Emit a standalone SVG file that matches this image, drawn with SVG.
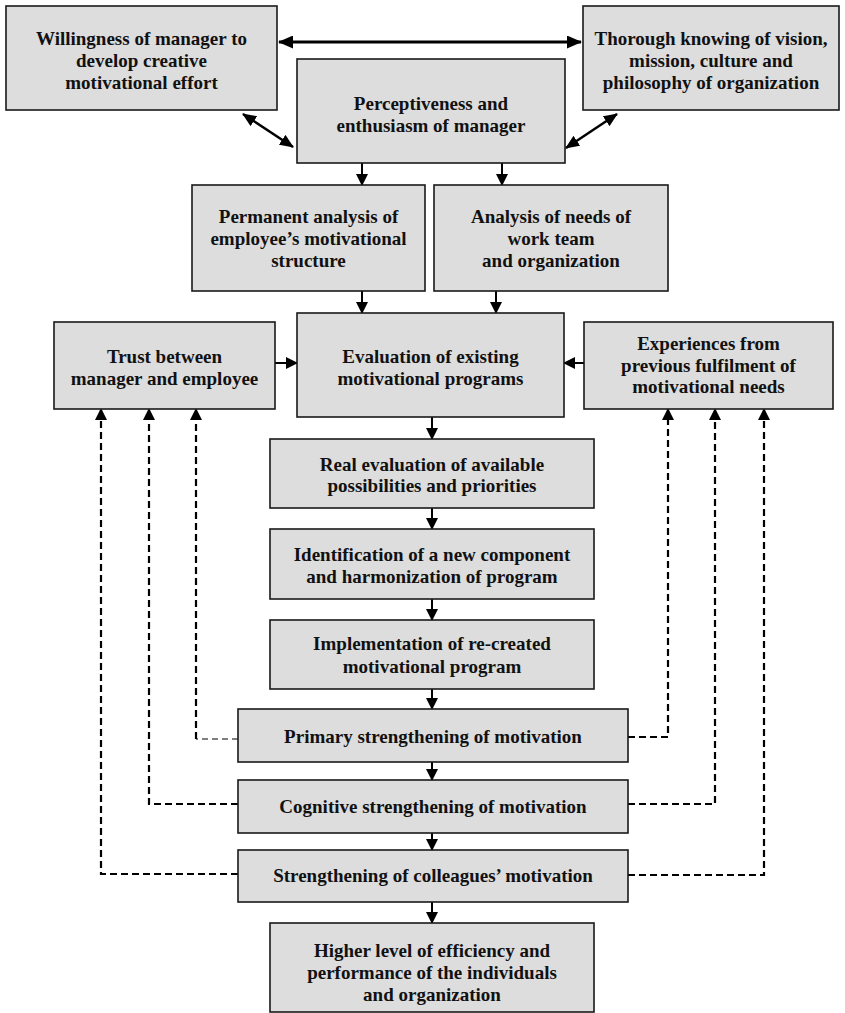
<svg xmlns="http://www.w3.org/2000/svg" width="845" height="1013" viewBox="0 0 845 1013">
<style>
.box{fill:#dddddd;stroke:#1a1a1a;stroke-width:1.6}
.t{font-family:"Liberation Serif","Times New Roman",serif;font-weight:bold;font-size:19px;fill:#111;text-anchor:middle}
.sol{stroke:#000;stroke-width:2;fill:none;marker-end:url(#ah)}
.dbl{stroke:#000;stroke-width:2.5;fill:none;marker-start:url(#ah2);marker-end:url(#ah2)}
.top{stroke:#000;stroke-width:3;fill:none;marker-start:url(#ah3);marker-end:url(#ah3)}
.dash{stroke:#000;stroke-width:2.2;fill:none;stroke-dasharray:7,4;marker-end:url(#ah)}
.thin{stroke:#555;stroke-width:1.3;fill:none;stroke-dasharray:6,4}
</style>
<defs>
<marker id="ah" markerUnits="userSpaceOnUse" markerWidth="12" markerHeight="12" refX="11" refY="6" orient="auto-start-reverse"><path d="M0,0 L12,6 L0,12 z" fill="#000"/></marker>
<marker id="ah2" markerUnits="userSpaceOnUse" markerWidth="14" markerHeight="12" refX="13" refY="6" orient="auto-start-reverse"><path d="M0,0 L14,6 L0,12 z" fill="#000"/></marker>
<marker id="ah3" markerUnits="userSpaceOnUse" markerWidth="15" markerHeight="13" refX="14" refY="6.5" orient="auto-start-reverse"><path d="M0,0 L15,6.5 L0,13 z" fill="#000"/></marker>
</defs>

<g id="connectors">
<line class="top" x1="279" y1="42" x2="581" y2="42"/>
<line class="dbl" x1="243" y1="114" x2="293" y2="147"/>
<line class="dbl" x1="566" y1="148" x2="617" y2="114"/>
<line class="sol" x1="362" y1="163" x2="362" y2="185"/>
<line class="sol" x1="502" y1="163" x2="502" y2="185"/>
<line class="sol" x1="362" y1="291" x2="362" y2="313"/>
<line class="sol" x1="496" y1="291" x2="496" y2="313"/>
<line class="sol" x1="275" y1="363" x2="297" y2="363"/>
<line class="sol" x1="584" y1="363" x2="564" y2="363"/>
<line class="sol" x1="432" y1="417" x2="432" y2="439"/>
<line class="sol" x1="432" y1="508" x2="432" y2="529"/>
<line class="sol" x1="432" y1="599" x2="432" y2="620"/>
<line class="sol" x1="432" y1="689" x2="432" y2="709"/>
<line class="sol" x1="432" y1="762" x2="432" y2="780"/>
<line class="sol" x1="432" y1="833" x2="432" y2="850"/>
<line class="sol" x1="432" y1="902" x2="432" y2="923"/>
<line class="thin" x1="238" y1="739" x2="196" y2="739"/>
<path class="dash" d="M196,739 L196,409"/>
<path class="dash" d="M238,804 L149,804 L149,409"/>
<path class="dash" d="M238,874 L101,874 L101,409"/>
<path class="dash" d="M628,737 L668,737 L668,409"/>
<path class="dash" d="M628,804 L715,804 L715,409"/>
<path class="dash" d="M628,875 L764,875 L764,409"/>
</g>

<g id="n-willingness"><rect class="box" x="6" y="6" width="271" height="104"/>
<text class="t" x="141.5" y="45">Willingness of manager to</text><text class="t" x="141.5" y="67">develop creative</text><text class="t" x="141.5" y="89">motivational effort</text></g>
<g id="n-thorough"><rect class="box" x="583" y="6" width="256" height="104"/>
<text class="t" x="711" y="45">Thorough knowing of vision,</text><text class="t" x="711" y="67">mission, culture and</text><text class="t" x="711" y="89">philosophy of organization</text></g>
<g id="n-perceptiveness"><rect class="box" x="297" y="59" width="268" height="104"/>
<text class="t" x="431" y="110">Perceptiveness and</text><text class="t" x="431" y="132">enthusiasm of manager</text></g>
<g id="n-permanent"><rect class="box" x="192" y="185" width="233" height="106"/>
<text class="t" x="308.5" y="223">Permanent analysis of</text><text class="t" x="308.5" y="245">employee’s motivational</text><text class="t" x="308.5" y="267">structure</text></g>
<g id="n-needs"><rect class="box" x="434" y="185" width="234" height="106"/>
<text class="t" x="551" y="223">Analysis of needs of</text><text class="t" x="551" y="245">work team</text><text class="t" x="551" y="267">and organization</text></g>
<g id="n-trust"><rect class="box" x="54" y="322" width="221" height="87"/>
<text class="t" x="164.5" y="363">Trust between</text><text class="t" x="164.5" y="385">manager and employee</text></g>
<g id="n-evaluation"><rect class="box" x="297" y="313" width="267" height="104"/>
<text class="t" x="430.5" y="363">Evaluation of existing</text><text class="t" x="430.5" y="385">motivational programs</text></g>
<g id="n-experiences"><rect class="box" x="584" y="322" width="249" height="87"/>
<text class="t" x="708.5" y="350">Experiences from</text><text class="t" x="708.5" y="372">previous fulfilment of</text><text class="t" x="708.5" y="393">motivational needs</text></g>
<g id="n-real"><rect class="box" x="270" y="439" width="324" height="69"/>
<text class="t" x="432" y="471">Real evaluation of available</text><text class="t" x="432" y="492">possibilities and priorities</text></g>
<g id="n-identification"><rect class="box" x="270" y="529" width="324" height="70"/>
<text class="t" x="432" y="561">Identification of a new component</text><text class="t" x="432" y="583">and harmonization of program</text></g>
<g id="n-implementation"><rect class="box" x="270" y="620" width="324" height="69"/>
<text class="t" x="432" y="650">Implementation of re-created</text><text class="t" x="432" y="673">motivational program</text></g>
<g id="n-primary"><rect class="box" x="238" y="709" width="390" height="53"/>
<text class="t" x="433" y="743">Primary strengthening of motivation</text></g>
<g id="n-cognitive"><rect class="box" x="238" y="780" width="390" height="53"/>
<text class="t" x="433" y="813">Cognitive strengthening of motivation</text></g>
<g id="n-colleagues"><rect class="box" x="238" y="850" width="390" height="52"/>
<text class="t" x="433" y="882">Strengthening of colleagues’ motivation</text></g>
<g id="n-higher"><rect class="box" x="270" y="923" width="324" height="89"/>
<text class="t" x="432" y="957">Higher level of efficiency and</text><text class="t" x="432" y="979">performance of the individuals</text><text class="t" x="432" y="1001">and organization</text></g>
</svg>
